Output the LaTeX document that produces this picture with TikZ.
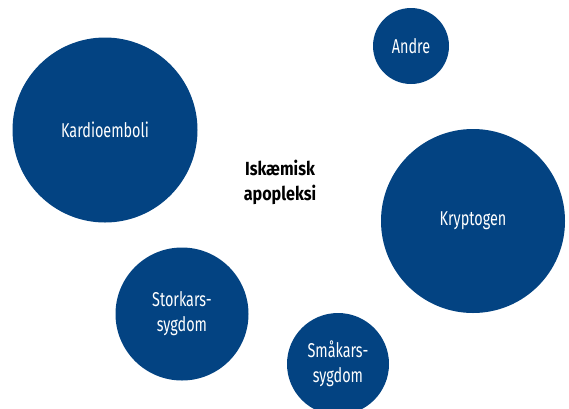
\documentclass[tikz,border=0pt]{standalone}
\usepackage{fontspec}
\setmainfont{Fira Sans}[FakeStretch=0.72]
\newfontfamily\titlefont{Fira Sans}[FakeStretch=0.85]
\usepackage{tikz}
\usetikzlibrary{positioning}
\definecolor{bubbleblue}{RGB}{3,67,130}

\begin{document}
\begin{tikzpicture}[
    x=1pt, y=-1pt,
    bubble/.style={circle, fill=bubbleblue, draw=none, inner sep=0pt, text=white, align=center, font=\fontsize{20}{25}\selectfont},
    title/.style={align=center, text=black, font=\titlefont\fontsize{19}{25}\selectfont\bfseries}
]
    \useasboundingbox (0,0) rectangle (569,408);

    \node [bubble, minimum size=185pt] (kardio) at (105,130) {Kardioemboli};
    \node [bubble, minimum size=76pt] (andre) at (411,46) {Andre};
    \node [bubble, minimum size=184pt] (krypto) at (473,221) {Kryptogen};
    \node [bubble, minimum size=133pt] (stor) at (182,314) {Storkars-\\sygdom};
    \node [bubble, minimum size=102pt] (smaa) at (338,364) {Småkars-\\sygdom};

    \node [title] (iskaemi) at (280,182) {Iskæmisk\\apopleksi};

\end{tikzpicture}
\end{document}
